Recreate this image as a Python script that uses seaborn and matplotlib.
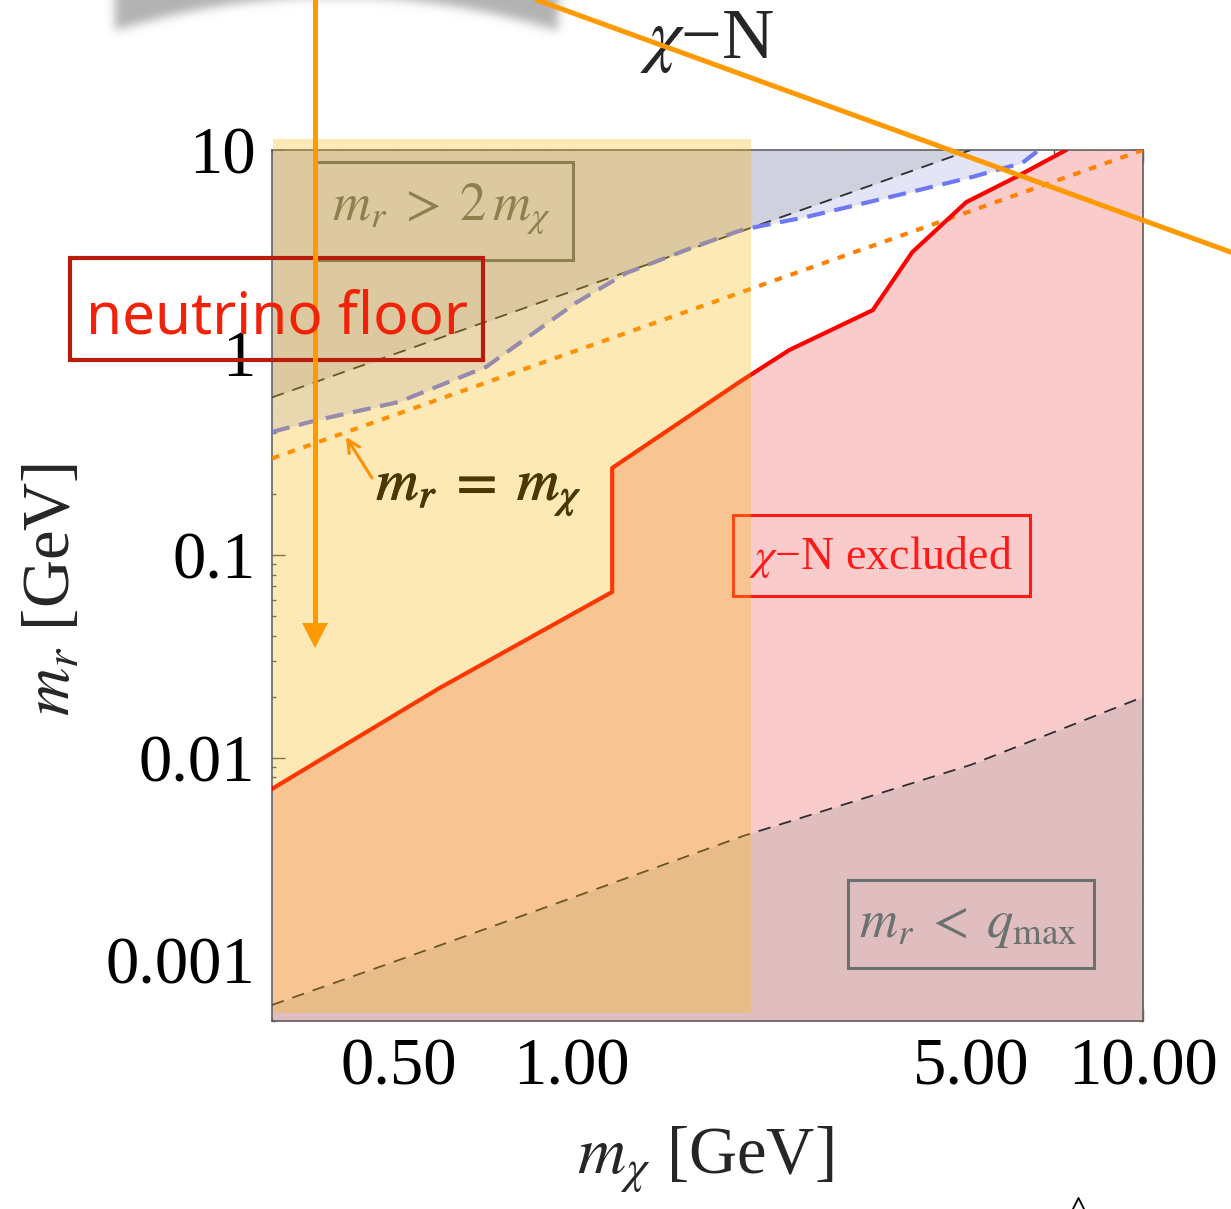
import numpy as np
import matplotlib
matplotlib.use("Agg")
import matplotlib.pyplot as plt
import matplotlib.transforms as mtransforms
import matplotlib.patheffects as pe
from matplotlib.patches import Rectangle, Polygon
from matplotlib.lines import Line2D
from matplotlib.ticker import FixedLocator, FixedFormatter, NullFormatter
import seaborn as sns

# ---------------- data (GeV) ----------------
# chi-N exclusion boundary
red_x = [0.30, 0.59, 1.18, 1.18, 1.97, 2.41, 3.37, 3.95, 4.91, 6.00, 7.34]
red_y = [0.0070, 0.0221, 0.0657, 0.269, 0.715, 1.03, 1.62, 3.13, 5.53, 7.36, 10.0]

# neutrino-floor boundary (blue dashed)
floor_x = [0.30, 0.36, 0.50, 0.71, 0.84, 1.02, 1.25, 1.63, 2.00, 2.58, 3.86, 5.03, 6.15, 6.58]
floor_y = [0.405, 0.464, 0.570, 0.848, 1.19, 1.76, 2.47, 3.30, 4.05, 4.67, 6.13, 7.36, 8.63, 10.0]

# m_r = m_chi and m_r = 2 m_chi
equal_x = [0.30, 10.0]
equal_y = [0.30, 10.0]
double_x = [0.30, 5.0]
double_y = [0.60, 10.0]

# m_r = q_max
qmax_x = [0.30, 0.50, 1.00, 2.00, 5.00, 10.0]
qmax_y = [0.0006, 0.0010, 0.00202, 0.0041, 0.0092, 0.0199]

x_major = [0.5, 1.0, 5.0, 10.0]
x_major_labels = ["0.50", "1.00", "5.00", "10.00"]
x_minor = [0.3, 0.4, 0.6, 0.7, 0.8, 0.9, 2, 3, 4, 6, 7, 8, 9]
y_major = [0.001, 0.01, 0.1, 1, 10]
y_major_labels = ["0.001", "0.01", "0.1", "1", "10"]

XMIN, XMAX = 0.3, 10.0
YMIN, YMAX = 5e-4, 10.0

# ---------------- style ----------------
sns.set_theme(style="ticks")
plt.rcParams["font.family"] = ["Liberation Serif", "DejaVu Serif"]
plt.rcParams["mathtext.fontset"] = "stix"
plt.rcParams["lines.scale_dashes"] = False

W, H = 1231, 1209
fig = plt.figure(figsize=(W / 100, H / 100), dpi=100)
fig.patch.set_facecolor("white")
ax = fig.add_axes([272 / W, 1 - 1021 / H, (1143 - 272) / W, (1021 - 150) / H])
ax.set_facecolor("white")

# pixel coordinates, origin top-left
pix = mtransforms.Affine2D().scale(1 / W, -1 / H).translate(0, 1) + fig.transFigure

ax.set_xscale("log")
ax.set_yscale("log")

# ---------------- regions ----------------
ax.fill_between(red_x + [XMAX], YMIN, red_y + [YMAX], color="#f9cbcb", lw=0, zorder=1)
ax.fill_between(floor_x, floor_y, YMAX, color="#e3e4f5", lw=0, zorder=1.1)
ax.fill_between(double_x, double_y, YMAX, color="#9e9ea0", alpha=0.27, lw=0, zorder=1.5)
ax.fill_between(qmax_x, YMIN, qmax_y, color="#9e9ea0", alpha=0.27, lw=0, zorder=1.5)

# ---------------- curves ----------------
sns.lineplot(x=double_x, y=double_y, ax=ax, sort=False, estimator=None,
             color="#2e2e2e", lw=1.3, linestyle=(0, (9, 6.5)), zorder=2.5)
sns.lineplot(x=qmax_x, y=qmax_y, ax=ax, sort=False, estimator=None,
             color="#2e2e2e", lw=1.3, linestyle=(0, (9, 6.5)), zorder=2.5)
sns.lineplot(x=floor_x, y=floor_y, ax=ax, sort=False, estimator=None,
             color="#6e78f0", lw=3.0, linestyle=(0, (13, 7)), zorder=2.6)
sns.lineplot(x=equal_x, y=equal_y, ax=ax, sort=False, estimator=None,
             color="#ff8000", lw=3.0, linestyle=(0, (5.5, 6.5)), zorder=2.7)
sns.lineplot(x=red_x, y=red_y, ax=ax, sort=False, estimator=None,
             color="#ff0000", lw=3.0, zorder=3)

ax.set_xlim(XMIN, XMAX)
ax.set_ylim(YMIN, YMAX)

# ---------------- axes & ticks ----------------
for s in ax.spines.values():
    s.set_color("#555555")
    s.set_linewidth(1.1)
    s.set_visible(True)
ax.xaxis.set_major_locator(FixedLocator(x_major))
ax.xaxis.set_major_formatter(FixedFormatter(x_major_labels))
ax.xaxis.set_minor_locator(FixedLocator(x_minor))
ax.xaxis.set_minor_formatter(NullFormatter())
ax.yaxis.set_major_locator(FixedLocator(y_major))
ax.yaxis.set_major_formatter(FixedFormatter(y_major_labels))
ax.yaxis.set_minor_locator(FixedLocator(
    [m * 10.0 ** e for e in range(-4, 1) for m in range(2, 10)]))
ax.yaxis.set_minor_formatter(NullFormatter())
ax.tick_params(which="both", direction="in", top=True, right=True,
               color="#555555", width=1.0)
ax.tick_params(which="major", length=9)
ax.tick_params(which="minor", length=3)
ax.tick_params(axis="x", which="major", labelsize=48, pad=12, labelcolor="black")
ax.tick_params(axis="y", which="major", labelsize=48, pad=12, labelcolor="black")

ax.set_xlabel(r"$m_\chi$ [GeV]", fontsize=48, va="center")
ax.xaxis.set_label_coords(0.497, -0.16)
ax.set_ylabel(r"$m_r$ [GeV]", fontsize=48, va="center")
ax.yaxis.set_label_coords(-0.252, 0.495)
ax.set_title(r"$\chi$−N", fontsize=52, y=(1021 - 58) / 871, pad=0, va="baseline")

# ---------------- in-plot labels ----------------
grey_txt = "#64666a"
ax.add_artist(Rectangle((315, 162), 573 - 315, 260 - 162, transform=pix, fill=False,
                        edgecolor=grey_txt, lw=2.2, zorder=4, clip_on=False))
ax.text(441, 220, r"$m_r\;>\;2\,m_\chi$", transform=pix, fontsize=38, color=grey_txt,
        ha="center", va="baseline", zorder=4, clip_on=False)

ax.text(479, 500, r"$m_r\;=\;m_\chi$", transform=pix, fontsize=42, color="black",
        ha="center", va="baseline", zorder=4, clip_on=False,
        path_effects=[pe.withStroke(linewidth=0.8, foreground="black")])
ax.annotate("", xy=(346, 437), xytext=(372, 478), xycoords=pix, textcoords=pix,
            arrowprops=dict(arrowstyle="->", color="#ff8000", lw=2.2,
                            mutation_scale=22, shrinkA=0, shrinkB=0),
            annotation_clip=False, zorder=4)

ax.add_artist(Rectangle((733, 515), 1030 - 733, 596 - 515, transform=pix, fill=False,
                        edgecolor="#ff1a1a", lw=2.2, zorder=4, clip_on=False))
ax.text(881, 569, r"$\chi$−N excluded", transform=pix, fontsize=33, color="#ff1a1a",
        ha="center", va="baseline", zorder=4, clip_on=False)

qcol = "#6b7070"
ax.add_artist(Rectangle((848, 880), 1094 - 848, 968 - 880, transform=pix, fill=False,
                        edgecolor=qcol, lw=2.2, zorder=4, clip_on=False))
ax.text(968, 937, r"$m_r\;<\;q_{\rm max}$", transform=pix, fontsize=38, color=qcol,
        ha="center", va="baseline", zorder=4, clip_on=False)

# ---------------- slide highlights ----------------
fig.add_artist(Rectangle((273, 139), 751 - 273, 1013 - 139, transform=pix,
                         facecolor="#f8b90f", alpha=0.3, lw=0, zorder=5))

fig.add_artist(Rectangle((70, 258), 483 - 70, 360 - 258, transform=pix, fill=False,
                         edgecolor="#b91c0c", lw=3.0, zorder=6))
fig.text(277, 334, "neutrino floor", transform=pix, fontsize=42, color="#f0220a",
         family=["Noto Sans", "DejaVu Sans"], ha="center", va="baseline", zorder=7)

arrow_col = "#ff9900"
fig.add_artist(Line2D([315, 315], [-2, 626], transform=pix, color=arrow_col,
                      lw=3.6, zorder=6, solid_capstyle="butt"))
fig.add_artist(Polygon([(302, 623), (328, 623), (315, 648)], closed=True,
                       transform=pix, facecolor=arrow_col, edgecolor="none", zorder=6))
fig.add_artist(Line2D([537, 1236], [0, 254], transform=pix, color=arrow_col,
                      lw=3.6, zorder=6))

# small caret cut by the lower edge
fig.add_artist(Line2D([1073, 1078.5, 1084], [1209, 1198, 1209], transform=pix,
                      color="black", lw=1.3, zorder=6))


# soft grey shadow at the top edge
def gauss_blur(a, s):
    r = int(3 * s)
    k = np.exp(-0.5 * (np.arange(-r, r + 1) / s) ** 2)
    k /= k.sum()
    a = np.apply_along_axis(lambda v: np.convolve(v, k, mode="same"), 0, a)
    a = np.apply_along_axis(lambda v: np.convolve(v, k, mode="same"), 1, a)
    return a


x0, top_pad, hh, ww = 60, 30, 60, 560
yy, xx = np.mgrid[-top_pad:hh, x0:x0 + ww]
edge = -4 + 34 * ((xx - 336) / 221.0) ** 2
mask = ((xx >= 115) & (xx <= 557) & (yy < edge)).astype(float)
alpha = gauss_blur(mask, 5.0)[top_pad:]
rgba = np.zeros((hh, ww, 4))
rgba[..., :3] = 0.70
rgba[..., 3] = np.clip(alpha, 0, 1)
fig.figimage(rgba, xo=x0, yo=H - hh, origin="upper", zorder=0.5)

fig.savefig("out.png", dpi=100)
